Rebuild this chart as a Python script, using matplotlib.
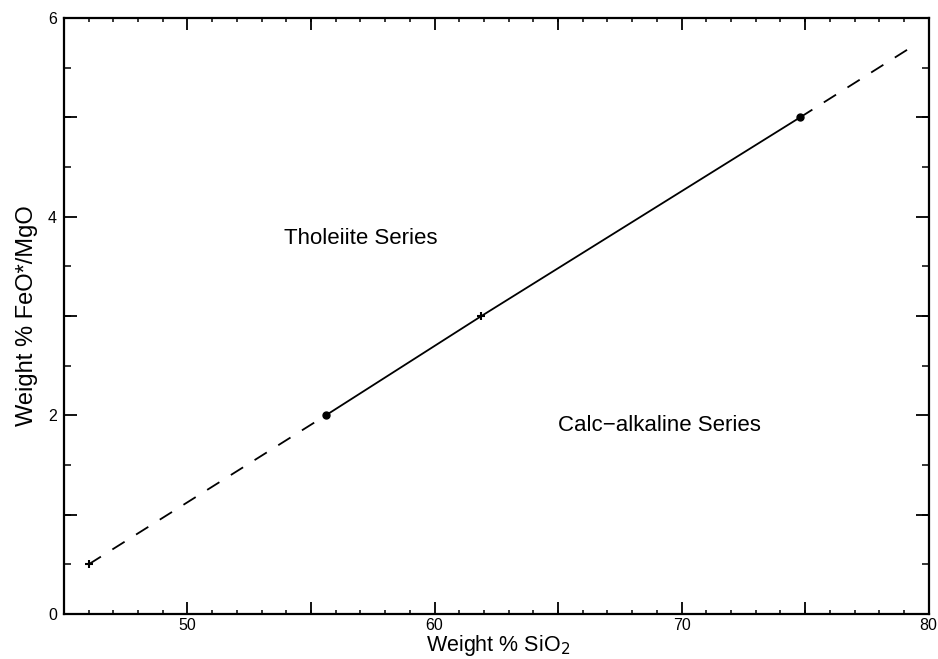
import matplotlib
matplotlib.use("Agg")
import matplotlib.pyplot as plt
from matplotlib.ticker import MultipleLocator, FixedLocator

plt.rcParams['font.family'] = ['Liberation Sans', 'DejaVu Sans']

# Data
dash_low_x = [46.0, 55.6]
dash_low_y = [0.5, 2.0]
solid_x = [55.6, 61.9, 74.8]
solid_y = [2.0, 3.0, 5.0]
dash_high_x = [74.8, 79.45]
dash_high_y = [5.0, 5.73]
dot_x = [55.6, 74.8]
dot_y = [2.0, 5.0]
plus_x = [46.0, 61.9]
plus_y = [0.5, 3.0]
xtick_labels = [50, 60, 70, 80]
ytick_labels = [0, 2, 4, 6]
x_mid_ticks = [55, 65, 75]
y_mid_ticks = [1, 3, 5]

fig = plt.figure(figsize=(9.38, 6.59), dpi=100)
ax = fig.add_axes([0.0682, 0.0683, 0.9218, 0.9044])

ax.plot(dash_low_x, dash_low_y, color='black', lw=1.3, dashes=(8, 7.5))
ax.plot(solid_x, solid_y, color='black', lw=1.3)
ax.plot(dash_high_x, dash_high_y, color='black', lw=1.3, dashes=(8, 7.5))
ax.plot(dot_x, dot_y, 'o', color='black', ms=5)
ax.plot(plus_x, plus_y, '+', color='black', ms=6, mew=1.5)

ax.text(57.0, 3.78, 'Tholeiite Series', fontsize=16, ha='center', va='center')
ax.text(69.1, 1.90, 'Calc\u2212alkaline Series', fontsize=16, ha='center', va='center')

ax.set_xlim(45, 80)
ax.set_ylim(0, 6)

ax.xaxis.set_major_locator(FixedLocator(xtick_labels))
ax.xaxis.set_minor_locator(MultipleLocator(1))
ax.yaxis.set_major_locator(FixedLocator(ytick_labels))
ax.yaxis.set_minor_locator(MultipleLocator(0.5))

ax.tick_params(axis='x', which='major', direction='in', length=8.5, width=1.3,
               top=True, labelsize=11.5, pad=3)
ax.tick_params(axis='x', which='minor', direction='in', length=3, width=1.1,
               top=True)
ax.tick_params(axis='y', which='major', direction='in', length=9.5, width=1.3,
               right=True, labelsize=11.5, pad=5)
ax.tick_params(axis='y', which='minor', direction='in', length=5, width=1.1,
               right=True)

fig.text(0.531, 0.001, 'Weight % SiO$_2$', fontsize=15.5, ha='center', va='bottom')
ax.set_ylabel('Weight % FeO*/MgO', fontsize=17, labelpad=7)

for s in ax.spines.values():
    s.set_linewidth(1.6)

# medium ticks at x=55,65,75 and y=1,3,5 (same length as labelled ticks)
for loc in ['bottom', 'top']:
    sx = ax.secondary_xaxis(loc)
    sx.xaxis.set_major_locator(FixedLocator(x_mid_ticks))
    sx.tick_params(direction='in', length=8.5, width=1.3,
                   labelbottom=False, labeltop=False)
    sx.spines[loc].set_visible(False)
for loc in ['left', 'right']:
    sy = ax.secondary_yaxis(loc)
    sy.yaxis.set_major_locator(FixedLocator(y_mid_ticks))
    sy.tick_params(direction='in', length=9.5, width=1.3,
                   labelleft=False, labelright=False)
    sy.spines[loc].set_visible(False)

fig.savefig('out.png', dpi=100)
